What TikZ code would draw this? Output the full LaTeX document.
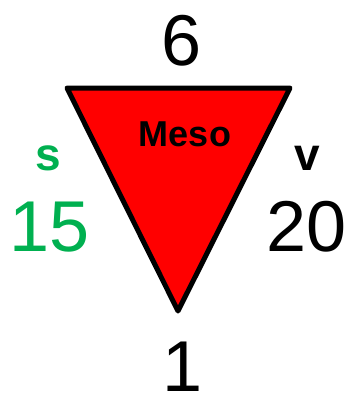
\documentclass[tikz,border=0pt]{standalone}
\usepackage{fontspec}
\setmainfont{Liberation Sans}
\definecolor{sgreen}{HTML}{00B050}
\begin{document}
\begin{tikzpicture}[x=1pt,y=-1pt,
  big/.style={anchor=base,inner sep=0pt,font=\fontsize{72}{72}\selectfont},
  small/.style={anchor=base,inner sep=0pt,font=\fontsize{46}{46}\selectfont\bfseries},
  tri/.style={draw=black,fill=red,line width=5pt,line join=round}]
\useasboundingbox (0,0) rectangle (352,394);
\coordinate (tl) at (67,88);
\coordinate (tr) at (290,88);
\coordinate (bt) at (178,311);
\draw[tri] (tl) -- (tr) -- (bt) -- cycle;
\node[anchor=base,inner sep=0pt,font=\fontsize{36}{36}\selectfont\bfseries] (meso) at (185,146) {Meso};
\node[big] (top) at (182,65) {6};
\node[big] (bot) at (183,391) {1};
\node[big,text=sgreen] (left) at (50,251) {15};
\node[big] (right) at (307,251) {20};
\node[small,text=sgreen] (s) at (48,170) {s};
\node[small] (v) at (307,170) {v};
\end{tikzpicture}
\end{document}
